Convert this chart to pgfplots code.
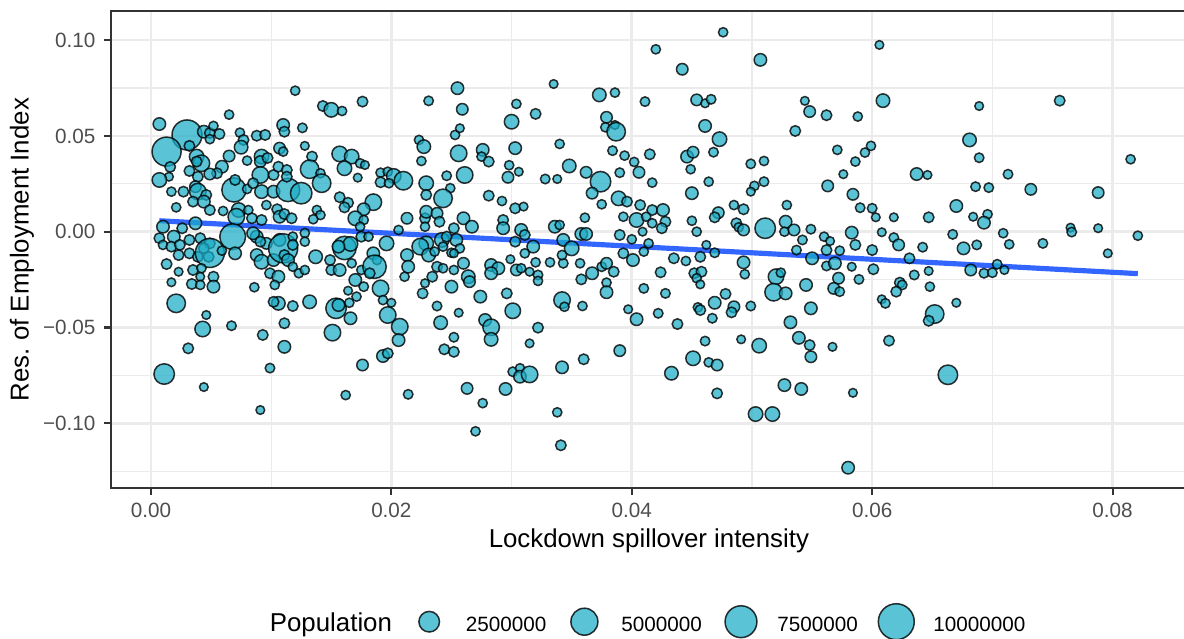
\documentclass[border=0pt]{standalone}
\usepackage{pgfplots}
\pgfplotsset{compat=1.18}
\usepackage{pgfplotstable}
\usepackage{fontspec}
\setmainfont{Liberation Sans}
\definecolor{ptfill}{RGB}{26,172,198}
\definecolor{grid92}{RGB}{235,235,235}
\definecolor{grey20}{RGB}{51,51,51}
\definecolor{grey30}{RGB}{77,77,77}
\definecolor{smoothblue}{RGB}{51,102,255}

\pgfplotstableread{
x y pop
0.0007 0.0562 0.55
0.0065 0.0611 0.17
0.0030 0.0505 6.5
0.0013 0.0418 6.0
0.0044 0.0522 0.55
0.0049 0.0515 0.29
0.0052 0.0552 0.17
0.0057 0.0510 0.29
0.0049 0.0483 0.17
0.0032 0.0448 0.29
0.0074 0.0517 0.17
0.0077 0.0479 0.29
0.0075 0.0441 0.72
0.0088 0.0501 0.29
0.0095 0.0505 0.29
0.0110 0.0557 0.55
0.0111 0.0522 0.29
0.0107 0.0436 0.41
0.0110 0.0418 0.17
0.0065 0.0395 0.41
0.0038 0.0392 0.90
0.0042 0.0357 1.34
0.0038 0.0366 0.29
0.0080 0.0371 0.17
0.0092 0.0392 0.90
0.0091 0.0366 0.41
0.0097 0.0385 0.29
0.0016 0.0338 0.29
0.0059 0.0339 0.55
0.0055 0.0305 0.29
0.0032 0.0317 0.29
0.0049 0.0301 0.41
0.0015 0.0287 0.12
0.0039 0.0287 0.29
0.0007 0.0270 0.90
0.0091 0.0296 1.34
0.0102 0.0296 0.29
0.0106 0.0339 0.29
0.0069 0.0218 3.8
0.0070 0.0270 0.29
0.0080 0.0223 0.17
0.0085 0.0253 0.29
0.0092 0.0209 0.72
0.0102 0.0209 0.55
0.0114 0.0218 3.5
0.0017 0.0209 0.17
0.0027 0.0209 0.29
0.0037 0.0235 0.41
0.0039 0.0209 1.34
0.0035 0.0157 0.29
0.0046 0.0192 0.29
0.0044 0.0157 0.55
0.0021 0.0127 0.17
0.0049 0.0113 0.29
0.0060 0.0108 0.17
0.0073 0.0113 0.90
0.0081 0.0113 0.17
0.0071 0.0078 1.34
0.0084 0.0070 0.29
0.0096 0.0139 0.17
0.0105 0.0117 0.29
0.0107 0.0078 0.55
0.0092 0.0061 0.29
0.0111 0.0092 0.29
0.0010 0.0026 0.55
0.0026 0.0018 0.29
0.0037 0.0044 0.55
0.0007 -0.0034 0.29
0.0019 -0.0026 0.55
0.0032 -0.0043 0.29
0.0068 -0.0026 4.5
0.0088 -0.0026 0.55
0.0096 -0.0061 0.41
0.0107 -0.0043 0.55
0.0049 -0.0061 0.29
0.0010 -0.0069 0.17
0.0017 -0.0078 0.29
0.0024 -0.0069 0.29
0.0023 -0.0122 0.29
0.0032 -0.0113 0.29
0.0041 -0.0034 0.29
0.0044 -0.0087 0.29
0.0039 -0.0131 0.29
0.0048 -0.0131 0.29
0.0049 -0.0111 6.0
0.0059 -0.0099 0.17
0.0070 -0.0113 0.55
0.0085 -0.0008 0.55
0.0091 -0.0052 0.29
0.0088 -0.0122 0.55
0.0092 -0.0157 0.90
0.0102 -0.0148 0.55
0.0110 -0.0087 6.0
0.0111 -0.0122 0.29
0.0099 -0.0217 0.29
0.0106 -0.0235 0.55
0.0103 -0.0278 0.17
0.0013 -0.0169 0.29
0.0023 -0.0209 0.12
0.0035 -0.0200 0.29
0.0042 -0.0191 0.17
0.0052 -0.0235 0.29
0.0041 -0.0235 0.12
0.0034 -0.0273 0.29
0.0041 -0.0278 0.17
0.0052 -0.0287 0.55
0.0017 -0.0264 0.12
0.0086 -0.0290 0.17
0.0021 -0.0374 1.86
0.0046 -0.0435 0.12
0.0043 -0.0508 1.11
0.0067 -0.0491 0.19
0.0093 -0.0539 0.29
0.0031 -0.0609 0.29
0.0011 -0.0743 2.46
0.0099 -0.0712 0.19
0.0044 -0.0811 0.12
0.0091 -0.0931 0.12
0.0106 -0.0374 0.72
0.0111 -0.0478 0.29
0.0111 -0.0601 0.55
0.0102 -0.0366 0.29
0.0120 0.0736 0.17
0.0143 0.0656 0.29
0.0150 0.0636 0.90
0.0159 0.0630 0.17
0.0176 0.0679 0.29
0.0231 0.0683 0.19
0.0255 0.0749 0.55
0.0126 0.0542 0.19
0.0128 0.0448 0.12
0.0134 0.0392 0.29
0.0132 0.0326 1.86
0.0157 0.0406 1.11
0.0167 0.0392 0.90
0.0161 0.0331 0.90
0.0174 0.0357 0.17
0.0178 0.0348 0.12
0.0172 0.0282 0.12
0.0141 0.0305 0.17
0.0142 0.0253 1.86
0.0113 0.0322 0.29
0.0125 0.0201 2.8
0.0113 0.0287 0.29
0.0191 0.0308 0.17
0.0197 0.0313 0.17
0.0202 0.0291 0.90
0.0210 0.0266 1.86
0.0191 0.0258 0.29
0.0198 0.0253 0.17
0.0223 0.0479 0.17
0.0227 0.0444 0.72
0.0225 0.0369 0.17
0.0229 0.0253 0.90
0.0229 0.0192 0.29
0.0246 0.0292 0.19
0.0249 0.0227 0.17
0.0243 0.0174 1.86
0.0253 0.0505 0.17
0.0256 0.0409 1.34
0.0157 0.0180 0.29
0.0164 0.0151 0.29
0.0161 0.0127 0.29
0.0185 0.0154 1.34
0.0177 0.0117 0.55
0.0170 0.0070 0.90
0.0177 0.0061 0.17
0.0174 0.0026 0.17
0.0138 0.0113 0.17
0.0141 0.0087 0.17
0.0135 0.0065 0.17
0.0117 0.0070 0.29
0.0213 0.0070 0.41
0.0228 0.0070 0.29
0.0229 0.0104 0.55
0.0238 0.0096 0.41
0.0240 0.0052 0.29
0.0228 0.0026 0.17
0.0252 0.0018 0.29
0.0206 0.0009 0.17
0.0229 -0.0061 0.90
0.0242 -0.0043 0.90
0.0254 -0.0043 0.55
0.0161 -0.0085 3.5
0.0166 -0.0064 0.90
0.0156 -0.0078 0.55
0.0196 -0.0061 0.90
0.0128 -0.0007 0.17
0.0118 -0.0026 0.17
0.0118 -0.0069 0.29
0.0128 -0.0052 0.17
0.0114 -0.0148 0.55
0.0118 -0.0183 0.17
0.0123 -0.0217 0.17
0.0128 -0.0200 0.17
0.0137 -0.0131 0.72
0.0149 -0.0148 0.29
0.0150 -0.0200 0.29
0.0157 -0.0200 0.55
0.0167 -0.0165 0.17
0.0175 -0.0200 0.17
0.0175 -0.0026 0.29
0.0181 -0.0026 0.17
0.0185 -0.0113 0.55
0.0188 -0.0148 0.17
0.0186 -0.0183 3.5
0.0182 -0.0217 0.29
0.0170 -0.0252 0.55
0.0164 -0.0308 0.12
0.0177 -0.0287 0.19
0.0171 -0.0339 0.17
0.0191 -0.0296 1.34
0.0193 -0.0357 0.17
0.0200 -0.0371 0.12
0.0197 -0.0435 1.34
0.0207 -0.0496 1.34
0.0206 -0.0566 0.55
0.0193 -0.0649 0.55
0.0197 -0.0635 0.29
0.0176 -0.0696 0.41
0.0162 -0.0853 0.17
0.0214 -0.0849 0.19
0.0118 -0.0388 0.29
0.0132 -0.0366 0.72
0.0154 -0.0400 2.46
0.0156 -0.0383 0.55
0.0165 -0.0371 0.17
0.0166 -0.0452 0.55
0.0151 -0.0527 1.34
0.0213 -0.0122 0.55
0.0214 -0.0183 0.55
0.0211 -0.0235 0.17
0.0224 -0.0078 1.34
0.0231 -0.0122 0.72
0.0236 -0.0104 0.17
0.0238 -0.0183 0.29
0.0243 -0.0191 0.17
0.0234 -0.0235 0.29
0.0250 -0.0287 0.55
0.0228 -0.0269 0.12
0.0226 -0.0322 0.29
0.0238 -0.0388 0.19
0.0241 -0.0475 0.72
0.0252 -0.0551 0.19
0.0244 -0.0614 0.29
0.0252 -0.0627 0.29
0.0252 -0.0200 0.17
0.0256 -0.0423 0.12
0.0250 -0.0110 0.17
0.0243 -0.0078 0.17
0.0246 -0.0026 0.29
0.0259 0.0639 0.41
0.0257 0.0540 0.12
0.0261 0.0296 1.34
0.0276 0.0427 0.55
0.0275 0.0392 0.17
0.0281 0.0366 0.29
0.0281 0.0188 0.29
0.0292 0.0160 0.17
0.0303 0.0122 0.29
0.0310 0.0131 0.12
0.0260 0.0070 0.55
0.0267 0.0026 0.55
0.0293 0.0061 0.29
0.0293 0.0018 0.55
0.0304 0.0667 0.17
0.0300 0.0574 0.90
0.0320 0.0615 0.29
0.0303 0.0436 0.55
0.0298 0.0347 0.17
0.0306 0.0313 0.12
0.0297 0.0284 0.41
0.0335 0.0771 0.12
0.0340 0.0458 0.17
0.0348 0.0343 0.72
0.0328 0.0275 0.19
0.0338 0.0275 0.12
0.0362 0.0310 0.41
0.0373 0.0714 0.72
0.0386 0.0726 0.17
0.0379 0.0597 0.41
0.0378 0.0545 0.17
0.0386 0.0557 0.12
0.0387 0.0522 1.86
0.0384 0.0423 0.19
0.0394 0.0397 0.17
0.0390 0.0308 0.19
0.0374 0.0261 2.46
0.0367 0.0201 0.41
0.0375 0.0143 0.17
0.0389 0.0174 0.90
0.0396 0.0157 0.29
0.0393 0.0078 0.17
0.0361 0.0073 0.17
0.0308 0.0009 0.55
0.0336 0.0026 0.55
0.0340 0.0035 0.17
0.0358 -0.0012 0.55
0.0362 -0.0012 0.55
0.0390 -0.0017 0.29
0.0343 -0.0043 0.55
0.0318 -0.0078 0.55
0.0311 -0.0017 0.29
0.0303 -0.0052 0.29
0.0311 -0.0113 0.17
0.0257 -0.0087 0.17
0.0252 -0.0113 0.12
0.0260 -0.0165 0.41
0.0264 -0.0235 0.72
0.0265 -0.0261 0.41
0.0283 -0.0174 0.55
0.0289 -0.0191 0.55
0.0283 -0.0217 0.55
0.0299 -0.0144 0.12
0.0304 -0.0200 0.41
0.0308 -0.0191 0.17
0.0315 -0.0209 0.12
0.0320 -0.0160 0.17
0.0322 -0.0226 0.19
0.0322 -0.0257 0.17
0.0332 -0.0160 0.17
0.0343 -0.0165 0.19
0.0342 -0.0122 0.19
0.0350 -0.0087 0.90
0.0357 -0.0165 0.17
0.0367 -0.0217 0.55
0.0358 -0.0249 0.29
0.0375 -0.0183 0.19
0.0379 -0.0165 0.41
0.0385 -0.0209 0.29
0.0379 -0.0266 0.17
0.0379 -0.0316 0.55
0.0393 -0.0113 0.29
0.0274 -0.0339 0.55
0.0296 -0.0322 0.29
0.0301 -0.0413 1.11
0.0278 -0.0461 0.55
0.0283 -0.0499 1.34
0.0283 -0.0562 0.72
0.0322 -0.0501 0.29
0.0315 -0.0583 0.12
0.0342 -0.0357 1.34
0.0344 -0.0392 0.17
0.0359 -0.0388 0.17
0.0397 -0.0405 0.12
0.0390 -0.0621 0.41
0.0360 -0.0666 0.29
0.0342 -0.0708 0.55
0.0301 -0.0731 0.19
0.0307 -0.0713 0.17
0.0307 -0.0757 0.55
0.0315 -0.0745 1.34
0.0295 -0.0821 0.55
0.0263 -0.0818 0.41
0.0276 -0.0895 0.17
0.0338 -0.0943 0.17
0.0270 -0.1042 0.17
0.0341 -0.1115 0.29
0.0476 0.1041 0.17
0.0420 0.0952 0.17
0.0442 0.0848 0.41
0.0507 0.0897 0.55
0.0606 0.0975 0.12
0.0411 0.0679 0.19
0.0454 0.0688 0.41
0.0461 0.0670 0.12
0.0466 0.0691 0.19
0.0461 0.0552 0.55
0.0473 0.0483 0.90
0.0544 0.0683 0.12
0.0548 0.0627 0.41
0.0562 0.0608 0.29
0.0588 0.0601 0.17
0.0536 0.0526 0.29
0.0609 0.0684 0.72
0.0402 0.0364 0.17
0.0415 0.0404 0.29
0.0406 0.0310 0.41
0.0446 0.0392 0.55
0.0451 0.0415 0.41
0.0449 0.0326 0.17
0.0468 0.0415 0.19
0.0464 0.0261 0.17
0.0417 0.0256 0.17
0.0450 0.0201 0.55
0.0499 0.0354 0.19
0.0510 0.0369 0.17
0.0510 0.0261 0.19
0.0502 0.0239 0.17
0.0499 0.0209 0.12
0.0571 0.0427 0.17
0.0586 0.0366 0.17
0.0594 0.0413 0.17
0.0599 0.0448 0.17
0.0576 0.0300 0.12
0.0563 0.0239 0.41
0.0584 0.0195 0.41
0.0590 0.0125 0.19
0.0600 0.0122 0.19
0.0603 0.0075 0.12
0.0529 0.0139 0.17
0.0485 0.0139 0.17
0.0493 0.0117 0.29
0.0472 0.0099 0.41
0.0469 0.0075 0.29
0.0450 0.0057 0.17
0.0454 0.0000 0.17
0.0487 0.0044 0.29
0.0489 0.0023 0.17
0.0493 0.0009 0.41
0.0511 0.0018 2.46
0.0528 0.0052 0.55
0.0527 0.0000 0.17
0.0535 0.0009 0.41
0.0542 -0.0043 0.19
0.0549 0.0013 0.19
0.0560 -0.0026 0.17
0.0565 -0.0049 0.12
0.0583 -0.0005 0.55
0.0586 -0.0069 0.29
0.0608 -0.0003 0.12
0.0407 0.0139 0.29
0.0417 0.0113 0.29
0.0426 0.0113 0.55
0.0404 0.0061 0.90
0.0412 0.0078 0.17
0.0417 0.0044 0.17
0.0428 0.0052 0.29
0.0425 0.0018 0.29
0.0400 -0.0040 0.17
0.0409 0.0000 0.12
0.0462 -0.0069 0.12
0.0401 -0.0148 0.55
0.0410 -0.0104 0.17
0.0414 -0.0061 0.17
0.0435 -0.0139 0.29
0.0445 -0.0153 0.17
0.0457 -0.0131 0.29
0.0469 -0.0110 0.19
0.0424 -0.0212 0.29
0.0452 -0.0217 0.29
0.0458 -0.0209 0.29
0.0454 -0.0243 0.17
0.0457 -0.0275 0.12
0.0410 -0.0296 0.19
0.0428 -0.0322 0.19
0.0404 -0.0457 0.55
0.0422 -0.0426 0.19
0.0438 -0.0482 0.29
0.0455 -0.0395 0.17
0.0457 -0.0409 0.29
0.0467 -0.0452 0.19
0.0469 -0.0371 0.55
0.0478 -0.0325 0.29
0.0485 -0.0392 0.41
0.0483 -0.0421 0.29
0.0499 -0.0388 0.19
0.0493 -0.0160 0.55
0.0494 -0.0222 0.17
0.0520 -0.0235 1.11
0.0524 -0.0214 0.17
0.0518 -0.0316 1.6
0.0528 -0.0322 0.55
0.0537 -0.0096 0.19
0.0550 -0.0139 0.55
0.0562 -0.0096 0.29
0.0573 -0.0099 0.17
0.0562 -0.0179 0.19
0.0569 -0.0165 0.55
0.0572 -0.0243 0.41
0.0568 -0.0296 0.41
0.0573 -0.0313 0.19
0.0545 -0.0278 0.55
0.0549 -0.0400 0.55
0.0532 -0.0473 0.55
0.0539 -0.0554 0.55
0.0548 -0.0592 0.29
0.0549 -0.0653 0.41
0.0567 -0.0601 0.12
0.0583 -0.0183 0.12
0.0589 -0.0249 0.19
0.0601 -0.0196 0.29
0.0600 -0.0096 0.29
0.0608 -0.0353 0.12
0.0611 -0.0374 0.19
0.0614 -0.0569 0.29
0.0461 -0.0571 0.19
0.0491 -0.0562 0.12
0.0506 -0.0595 0.90
0.0451 -0.0661 0.90
0.0464 -0.0682 0.17
0.0471 -0.0696 0.41
0.0433 -0.0739 0.72
0.0471 -0.0844 0.29
0.0527 -0.0801 0.55
0.0541 -0.0821 0.55
0.0503 -0.0952 0.90
0.0517 -0.0952 0.90
0.0584 -0.0841 0.12
0.0580 -0.1232 0.55
0.0689 0.0656 0.12
0.0756 0.0684 0.29
0.0681 0.0479 0.72
0.0689 0.0386 0.19
0.0637 0.0301 0.55
0.0646 0.0296 0.12
0.0713 0.0300 0.19
0.0815 0.0378 0.17
0.0686 0.0235 0.19
0.0697 0.0230 0.19
0.0732 0.0221 0.41
0.0788 0.0204 0.41
0.0670 0.0134 0.55
0.0647 0.0075 0.29
0.0618 0.0075 0.12
0.0684 0.0078 0.12
0.0696 0.0091 0.17
0.0693 0.0047 0.55
0.0618 -0.0031 0.19
0.0622 -0.0069 0.41
0.0642 -0.0081 0.19
0.0667 -0.0014 0.19
0.0676 -0.0087 0.55
0.0687 -0.0069 0.19
0.0709 -0.0008 0.17
0.0714 -0.0066 0.17
0.0742 -0.0061 0.19
0.0765 0.0021 0.12
0.0766 -0.0002 0.19
0.0788 0.0018 0.12
0.0821 -0.0021 0.17
0.0796 -0.0113 0.12
0.0631 -0.0139 0.29
0.0635 -0.0226 0.19
0.0647 -0.0205 0.12
0.0623 -0.0266 0.29
0.0625 -0.0278 0.19
0.0620 -0.0313 0.29
0.0648 -0.0287 0.17
0.0670 -0.0371 0.12
0.0652 -0.0430 1.86
0.0647 -0.0465 0.29
0.0663 -0.0747 2.15
0.0682 -0.0200 0.41
0.0693 -0.0217 0.19
0.0700 -0.0214 0.19
0.0704 -0.0170 0.19
0.0710 -0.0200 0.12
}\pts

\pgfplotstableread{
x y pop
429.2 16.3 2.5
584.4 16.3 5
741.0 16.3 7.5
896.3 16.3 10
}\legpts

\pgfplotsset{
  bubble/.style={
    scatter, only marks, mark=*,
    scatter/use mapped color={draw=black, fill=ptfill, draw opacity=0.8, fill opacity=0.72, line width=0.64pt},
    visualization depends on={1.128+2.0625*sqrt(\thisrow{pop}) \as \msize},
    scatter/@pre marker code/.append style={/tikz/mark size=\msize},
  }
}

\begin{document}
\begin{tikzpicture}
\begin{axis}[
  at={(47.12pt,63.85pt)}, anchor=south west,
  scale only axis, width=458.2pt, height=203.05pt,
  xmin=-0.00335, xmax=0.0862, ymin=-0.1338, ymax=0.1152,
  scaled x ticks=false, scaled y ticks=false,
  xtick={0,0.02,0.04,0.06,0.08}, xticklabels={0.00,0.02,0.04,0.06,0.08},
  minor xtick={0.01,0.03,0.05,0.07},
  ytick={-0.1,-0.05,0,0.05,0.1}, yticklabels={−0.10,−0.05,0.00,0.05,0.10},
  minor ytick={-0.125,-0.075,-0.025,0.025,0.075},
  grid=both,
  major grid style={draw=grid92, line width=1.1pt},
  minor grid style={draw=grid92, line width=0.55pt},
  axis line style={draw=grey20, line width=0.9pt},
  tick align=outside, xtick pos=bottom, ytick pos=left,
  major tick length=2.98pt, minor tick length=0pt,
  tick style={draw=grey20, line width=0.9pt},
  ticklabel style={font=\fontsize{8.8}{10}\selectfont, text=grey30},
  xlabel={Lockdown spillover intensity},
  ylabel={Res.\ of Employment Index},
  label style={font=\fontsize{11}{13}\selectfont},
  xlabel style={at={(axis description cs:0.5,-0.111)}, anchor=center},
  ylabel style={at={(axis description cs:-0.0824,0.5)}, anchor=center},
]
\addplot[bubble] table[x=x,y=y] {\pts};
\addplot[draw=smoothblue, line width=2.2pt, no marks] coordinates {(0.0007,0.0057) (0.0821,-0.0219)};
\end{axis}
\begin{axis}[
  at={(0pt,0pt)}, anchor=south west,
  scale only axis, width=504pt, height=271.58pt,
  xmin=0, xmax=1184, ymin=0, ymax=638,
  hide axis, clip=false,
]
\addplot[bubble] table[x=x,y=y] {\legpts};
\node[anchor=base west, inner sep=0pt, font=\fontsize{11}{13}\selectfont] at (axis cs:269.4,6.3) {Population};
\node[anchor=base west, inner sep=0pt, font=\fontsize{8.8}{10}\selectfont] at (axis cs:465.4,6.3) {2500000};
\node[anchor=base west, inner sep=0pt, font=\fontsize{8.8}{10}\selectfont] at (axis cs:621.0,6.3) {5000000};
\node[anchor=base west, inner sep=0pt, font=\fontsize{8.8}{10}\selectfont] at (axis cs:777.0,6.3) {7500000};
\node[anchor=base west, inner sep=0pt, font=\fontsize{8.8}{10}\selectfont] at (axis cs:933.0,6.3) {10000000};
\end{axis}
\pgfresetboundingbox
\path[use as bounding box] (0pt,0pt) rectangle (504pt,271.58pt);
\end{tikzpicture}
\end{document}
